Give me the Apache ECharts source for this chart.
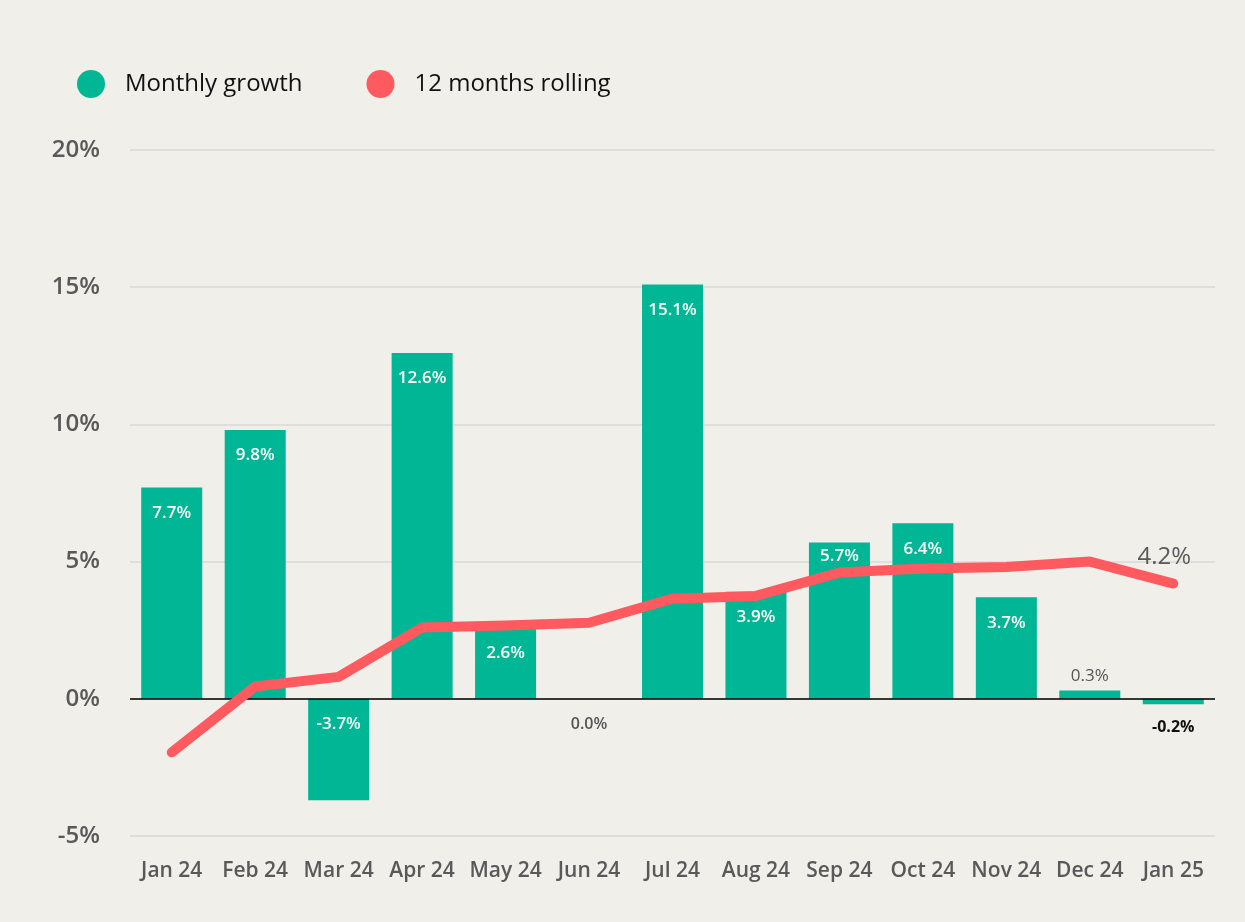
<!DOCTYPE html>
<html>
<head>
<meta charset="utf-8">
<script src="https://cdn.jsdelivr.net/npm/echarts@6/dist/echarts.min.js"></script>
<style>
  html, body { margin: 0; padding: 0; background: #F0EFEA; }
  #chart { width: 1245px; height: 922px; }
</style>
</head>
<body>
<div id="chart"></div>
<script>
// values
const months = ["Jan 24", "Feb 24", "Mar 24", "Apr 24", "May 24", "Jun 24", "Jul 24",
                "Aug 24", "Sep 24", "Oct 24", "Nov 24", "Dec 24", "Jan 25"];
const monthlyGrowth = [7.7, 9.8, -3.7, 12.6, 2.6, 0.0, 15.1, 3.9, 5.7, 6.4, 3.7, 0.3, -0.2];
const rolling12 = [-1.95, 0.45, 0.8, 2.6, 2.67, 2.77, 3.65, 3.75, 4.6, 4.75, 4.8, 5.0, 4.2];
const yTicks = [-5, 0, 5, 10, 15, 20];

const FONT = '"Open Sans", "Noto Sans", sans-serif';
const GREEN = '#00B695';
const RED = '#FF5A5F';

// bar labels: white inside the big bars, outside for the tiny ones
function barItem(v, i) {
  let label;
  if (Math.abs(v) >= 1) {
    // pull the label up when the rolling line would run through it
    const near = v > 0 && Math.abs(v - 0.95 - rolling12[i]) < 0.5;
    label = { position: 'insideTop', distance: near ? 5 : 17, color: '#fff', fontWeight: 600, fontSize: 17 };
  } else if (v > 0) {
    label = { position: 'top', distance: 6, color: '#555', fontWeight: 500, fontSize: 17 };
  } else if (v === 0) {
    label = { position: 'bottom', distance: 18, color: '#555', fontWeight: 600, fontSize: 16 };
  } else {
    label = { position: 'bottom', distance: 15, color: '#111', fontWeight: 700, fontSize: 16 };
  }
  return { value: v, label: label };
}

const rollingData = rolling12.map((v, i) => {
  if (i !== rolling12.length - 1) return v;
  return {
    value: v,
    label: {
      show: true, position: 'top', distance: 14, offset: [-9, 0],
      fontSize: 24, color: '#595959', fontFamily: FONT,
      formatter: p => p.value.toFixed(1) + '%'
    }
  };
});

const chart = echarts.init(document.getElementById('chart'), null, { renderer: 'canvas' });

chart.setOption({
  backgroundColor: '#F0EFEA',
  textStyle: { fontFamily: FONT },
  animation: false,
  legend: {
    left: 72,
    top: 65,
    icon: 'circle',
    itemWidth: 28,
    itemHeight: 28,
    itemGap: 64,
    textStyle: { fontSize: 24, color: '#111', fontFamily: FONT, padding: [0, 0, 0, 15] },
    data: ['Monthly growth', '12 months rolling']
  },
  grid: { left: 130, right: 30, top: 150, bottom: 86 },
  xAxis: {
    type: 'category',
    data: months,
    axisLine: { show: false, onZero: false },
    axisTick: { show: false },
    axisLabel: { interval: 0, fontSize: 21, fontWeight: 600, color: '#595959', margin: 25, fontFamily: FONT }
  },
  yAxis: {
    type: 'value',
    min: yTicks[0],
    max: yTicks[yTicks.length - 1],
    interval: 5,
    axisLine: { show: false },
    axisTick: { show: false },
    splitLine: { lineStyle: { color: '#D9D9D6', width: 1.5 } },
    axisLabel: { formatter: '{value}%', fontSize: 24, fontWeight: 600, color: '#595959', margin: 30, fontFamily: FONT }
  },
  series: [
    {
      name: 'Monthly growth',
      type: 'bar',
      barWidth: 61,
      itemStyle: { color: GREEN },
      label: { show: true, fontFamily: FONT, formatter: p => p.value.toFixed(1) + '%' },
      data: monthlyGrowth.map(barItem),
      markLine: {
        silent: true,
        symbol: 'none',
        label: { show: false },
        lineStyle: { color: '#000', width: 1.5, type: 'solid' },
        data: [{ yAxis: 0 }],
        z: 3
      },
      z: 2
    },
    {
      name: '12 months rolling',
      type: 'line',
      symbol: 'circle',
      symbolSize: 1,
      showSymbol: true,
      itemStyle: { color: RED },
      lineStyle: { color: RED, width: 10, cap: 'round', join: 'round' },
      data: rollingData,
      z: 5
    }
  ]
});
</script>
</body>
</html>
